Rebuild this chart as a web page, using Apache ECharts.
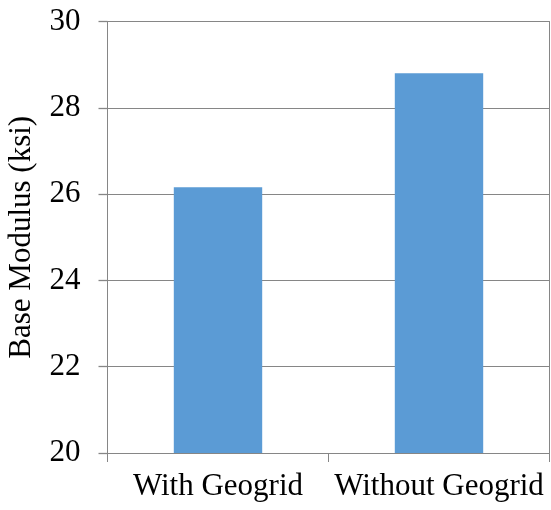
<!DOCTYPE html>
<html>
<head>
<meta charset="utf-8">
<script src="https://cdn.jsdelivr.net/npm/echarts@6/dist/echarts.min.js"></script>
<style>
html,body{margin:0;padding:0;background:#fff;}
#chart{width:551px;height:510px;}
</style>
</head>
<body>
<div id="chart"></div>
<script>
const categories = ["With Geogrid", "Without Geogrid"];
const baseModulus = [26.16, 28.8];
const yTicks = [20, 22, 24, 26, 28, 30];

const axisGray = "#868686";
const font = "'Liberation Serif', 'Times New Roman', serif";

const chart = echarts.init(document.getElementById('chart'), null, {renderer: 'canvas'});
chart.setOption({
  animation: false,
  backgroundColor: '#fff',
  grid: {left: 107.5, right: 1.5, top: 21.5, bottom: 57, containLabel: false, outerBoundsMode: 'none'},
  xAxis: {
    type: 'category',
    data: categories,
    boundaryGap: true,
    axisLine: {show: true, lineStyle: {color: axisGray, width: 1}},
    axisTick: {show: true, length: 9, alignWithLabel: false, lineStyle: {color: axisGray}},
    axisLabel: {color: '#000', fontFamily: font, fontSize: 31, margin: 18, interval: 0},
    splitLine: {show: false}
  },
  yAxis: [{
    type: 'value',
    min: yTicks[0],
    max: yTicks[yTicks.length - 1],
    interval: yTicks[1] - yTicks[0],
    name: 'Base Modulus (ksi)',
    nameLocation: 'middle',
    nameGap: 70,
    nameMoveOverlap: false,
    nameTextStyle: {color: '#000', fontFamily: font, fontSize: 31},
    axisLine: {show: true, lineStyle: {color: axisGray, width: 1}},
    axisTick: {show: true, inside: false, length: 9, lineStyle: {color: axisGray, width: 1.3}},
    axisLabel: {color: '#000', fontFamily: font, fontSize: 31, margin: 27},
    splitLine: {show: true, lineStyle: {color: axisGray, width: 1}}
  }, {
    type: 'value',
    position: 'right',
    min: yTicks[0],
    max: yTicks[yTicks.length - 1],
    interval: yTicks[1] - yTicks[0],
    axisLine: {show: true, lineStyle: {color: axisGray, width: 1}},
    axisTick: {show: false},
    axisLabel: {show: false},
    splitLine: {show: false}
  }],
  series: [{
    type: 'bar',
    data: baseModulus,
    barWidth: '40%',
    itemStyle: {color: '#5B9BD5'}
  }]
});
</script>
</body>
</html>
